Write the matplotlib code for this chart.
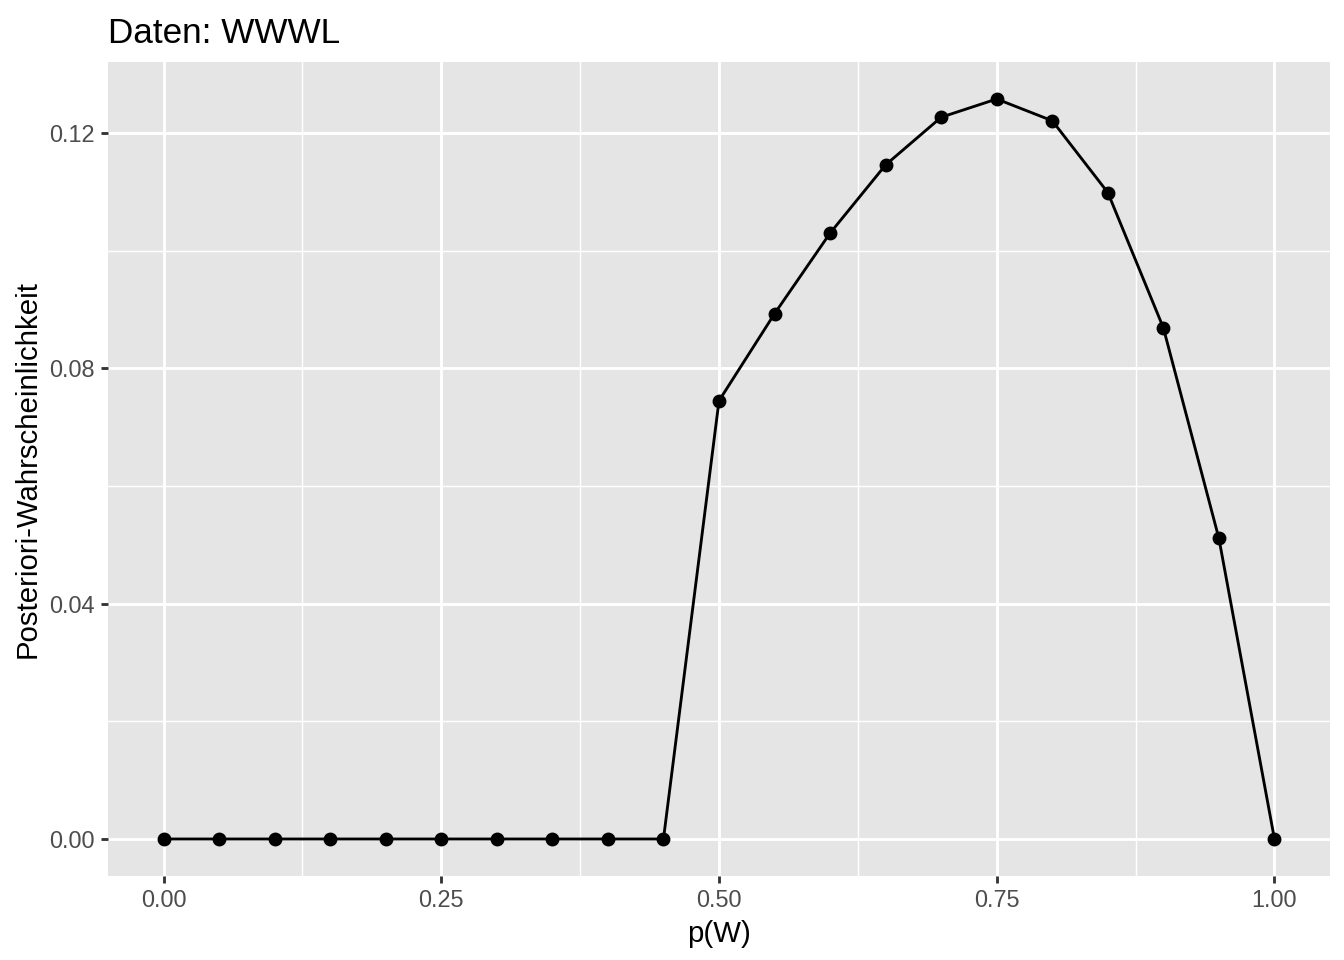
import matplotlib
matplotlib.use("Agg")
import matplotlib.pyplot as plt
from matplotlib.ticker import FixedLocator

plt.rcParams['font.family'] = ['Liberation Sans', 'DejaVu Sans']

p_grid = [0.00, 0.05, 0.10, 0.15, 0.20, 0.25, 0.30, 0.35, 0.40, 0.45,
          0.50, 0.55, 0.60, 0.65, 0.70, 0.75, 0.80, 0.85, 0.90, 0.95, 1.00]
posterior = [0, 0, 0, 0, 0, 0, 0, 0, 0, 0,
             0.0745, 0.0893, 0.1030, 0.1146, 0.1227, 0.1258, 0.1221, 0.1099, 0.0869, 0.0511, 0]
x_ticks = [0.00, 0.25, 0.50, 0.75, 1.00]
x_ticklabels = ["0.00", "0.25", "0.50", "0.75", "1.00"]
x_minor = [0.125, 0.375, 0.625, 0.875]
y_ticks = [0.00, 0.04, 0.08, 0.12]
y_ticklabels = ["0.00", "0.04", "0.08", "0.12"]
y_minor = [0.02, 0.06, 0.10]

fig = plt.figure(figsize=(7, 5), dpi=192)
ax = fig.add_axes([108/1344, 1 - 876/960, (1330 - 108)/1344, (876 - 62)/960])
ax.set_facecolor('#E5E5E5')
for s in ax.spines.values():
    s.set_visible(False)

ymax = max(posterior)
ax.set_xlim(-0.05, 1.05)
ax.set_ylim(-0.05 * ymax, 1.05 * ymax)

ax.xaxis.set_major_locator(FixedLocator(x_ticks))
ax.xaxis.set_minor_locator(FixedLocator(x_minor))
ax.yaxis.set_major_locator(FixedLocator(y_ticks))
ax.yaxis.set_minor_locator(FixedLocator(y_minor))
ax.set_xticklabels(x_ticklabels)
ax.set_yticklabels(y_ticklabels)

ax.grid(which='major', color='white', linewidth=1.07)
ax.grid(which='minor', color='white', linewidth=0.53)
ax.set_axisbelow(True)

ax.tick_params(which='major', length=2.75, width=1.07, color='#333333',
               labelsize=8.8, labelcolor='#4D4D4D', pad=2.2)
ax.tick_params(which='minor', length=0)

ax.plot(p_grid, posterior, color='black', linewidth=1.07, zorder=3)
ax.plot(p_grid, posterior, 'o', color='black', markersize=4.2, zorder=4)

ax.set_xlabel('p(W)', fontsize=11, color='black', labelpad=2.75)
ax.set_ylabel('Posteriori-Wahrscheinlichkeit', fontsize=11, color='black', labelpad=2.75)
ax.set_title('Daten: WWWL', fontsize=13.2, loc='left', pad=7, color='black')

fig.savefig('out.png', dpi=192)
